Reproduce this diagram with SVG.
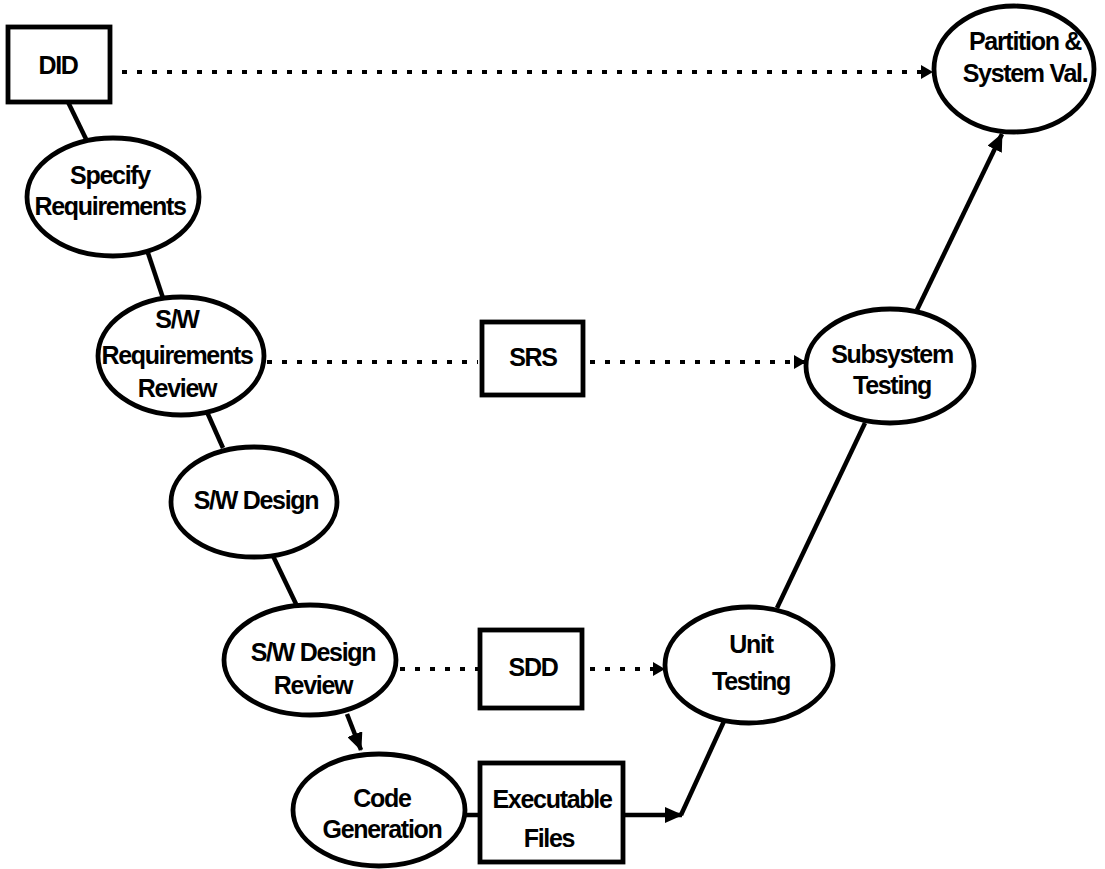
<svg xmlns="http://www.w3.org/2000/svg" width="1105" height="869" viewBox="0 0 1105 869">
<defs>
<style>
.n{fill:#fff;stroke:#000;stroke-width:4.8}
.t{font-family:"Liberation Sans",Arial,sans-serif;font-weight:bold;font-size:25px;letter-spacing:-1.3px;text-anchor:middle;fill:#000}
.c{fill:none;stroke:#000;stroke-width:4.5}
.d{fill:none;stroke:#000;stroke-width:4;stroke-dasharray:5 10}
</style>
<marker id="ah" markerWidth="18" markerHeight="16" refX="17" refY="8" orient="auto" markerUnits="userSpaceOnUse"><path d="M0,0 L18,8 L0,16 z" fill="#000"/></marker>
<marker id="ad" markerWidth="12" markerHeight="14" refX="11" refY="7" orient="auto" markerUnits="userSpaceOnUse"><path d="M0,0 L12,7 L0,14 z" fill="#000"/></marker>
</defs>
<rect width="1105" height="869" fill="#fff"/>
<g id="connectors">
<line class="c" x1="68" y1="102" x2="86" y2="139"/>
<line class="c" x1="148" y1="253" x2="163" y2="298"/>
<line class="c" x1="207" y1="412" x2="223" y2="448"/>
<line class="c" x1="273" y1="556" x2="297" y2="606"/>
<line class="c" x1="347" y1="714" x2="361" y2="750" marker-end="url(#ah)"/>
<line class="c" x1="465" y1="815" x2="480" y2="815"/>
<line class="c" x1="623" y1="815" x2="682" y2="815" marker-end="url(#ah)"/>
<line class="c" x1="681" y1="815" x2="725" y2="719"/>
<line class="c" x1="777" y1="608" x2="865" y2="423"/>
<line class="c" x1="917" y1="310" x2="1002" y2="134" marker-end="url(#ah)"/>
<line class="d" x1="122" y1="72" x2="932" y2="72" marker-end="url(#ad)"/>
<line class="d" x1="267" y1="362" x2="478" y2="362"/>
<line class="d" x1="590" y1="362" x2="805" y2="362" marker-end="url(#ad)"/>
<line class="d" x1="400" y1="669" x2="478" y2="669"/>
<line class="d" x1="590" y1="669" x2="664" y2="669" marker-end="url(#ad)"/>
</g>
<g id="did"><rect class="n" x="8" y="27" width="102" height="75"/><text class="t" x="58" y="74">DID</text></g>
<g id="partition"><ellipse class="n" cx="1014" cy="69" rx="80" ry="63"/><text class="t" x="1025" y="50">Partition &amp;</text><text class="t" x="1025" y="82">System Val.</text></g>
<g id="specify"><ellipse class="n" cx="113" cy="197" rx="86" ry="59"/><text class="t" x="110" y="184">Specify</text><text class="t" x="110" y="215">Requirements</text></g>
<g id="swreqreview"><ellipse class="n" cx="181" cy="356" rx="83" ry="59"/><text class="t" x="177" y="328">S/W</text><text class="t" x="177" y="364">Requirements</text><text class="t" x="177" y="397">Review</text></g>
<g id="srs"><rect class="n" x="482" y="322" width="101" height="73"/><text class="t" x="533" y="366">SRS</text></g>
<g id="subsystem"><ellipse class="n" cx="890" cy="366" rx="84" ry="57"/><text class="t" x="892" y="363">Subsystem</text><text class="t" x="892" y="394">Testing</text></g>
<g id="swdesign"><ellipse class="n" cx="254" cy="502" rx="83" ry="55"/><text class="t" x="256" y="509">S/W Design</text></g>
<g id="swdesignreview"><ellipse class="n" cx="310" cy="660" rx="86" ry="55"/><text class="t" x="313" y="661">S/W Design</text><text class="t" x="313" y="694">Review</text></g>
<g id="sdd"><rect class="n" x="480" y="630" width="102" height="78"/><text class="t" x="533" y="676">SDD</text></g>
<g id="unittesting"><ellipse class="n" cx="749" cy="665" rx="84" ry="58"/><text class="t" x="751" y="653">Unit</text><text class="t" x="751" y="690">Testing</text></g>
<g id="codegen"><ellipse class="n" cx="379" cy="810" rx="86" ry="56"/><text class="t" x="382" y="807">Code</text><text class="t" x="382" y="838">Generation</text></g>
<g id="execfiles"><rect class="n" x="480" y="763" width="143" height="99"/><text class="t" x="552" y="808">Executable</text><text class="t" x="549" y="847">Files</text></g>
</svg>
